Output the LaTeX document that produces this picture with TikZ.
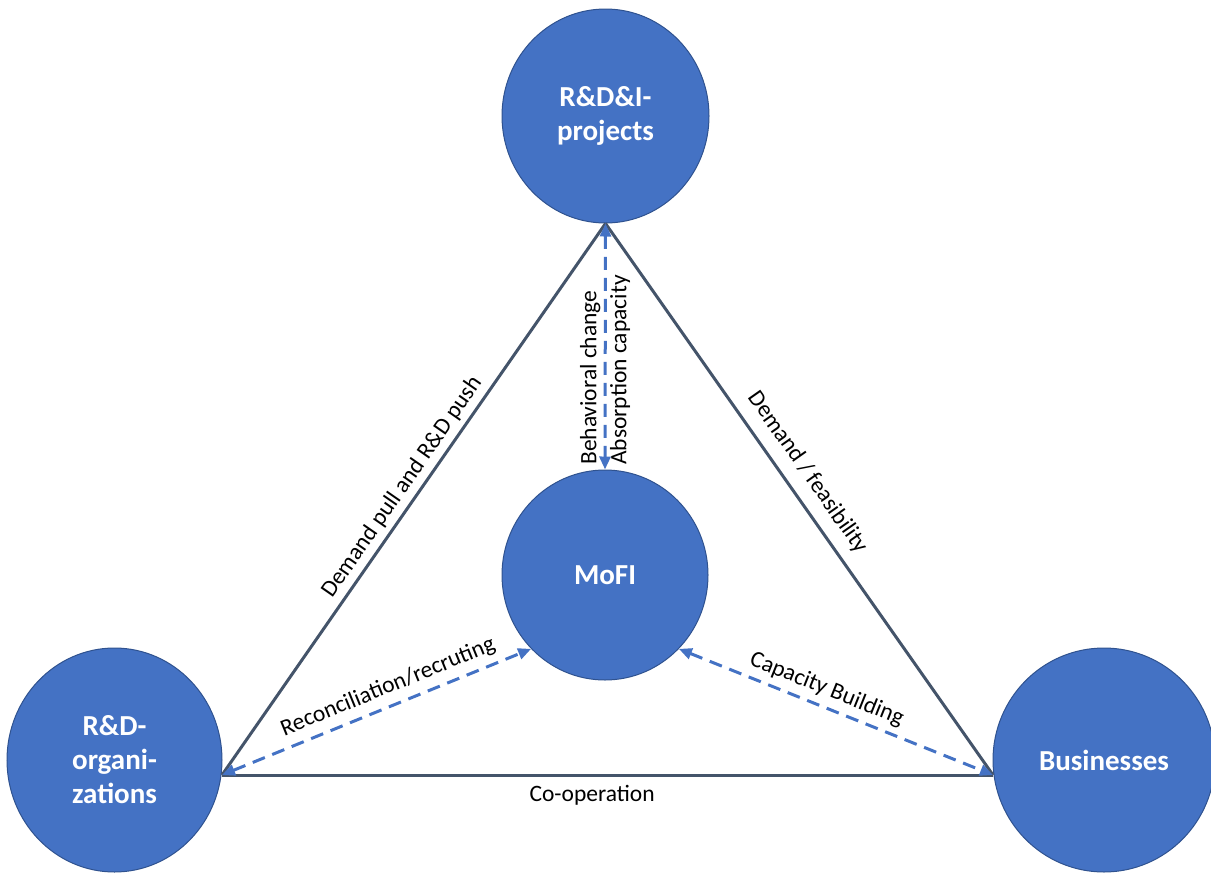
\documentclass[tikz,border=0pt]{standalone}
\usepackage{fontspec}
\setmainfont{Carlito}
\usetikzlibrary{arrows.meta,shapes.geometric}
\definecolor{circfill}{HTML}{4472C4}
\definecolor{circline}{HTML}{2F528F}
\definecolor{triline}{HTML}{44546A}
\definecolor{dashblue}{HTML}{4472C4}
\begin{document}
\begin{tikzpicture}[x=1pt,y=-1pt,
  bubble/.style={ellipse,draw=circline,line width=1pt,fill=circfill,inner sep=0pt,
    text=white,align=center,font=\fontsize{29}{34}\selectfont\bfseries},
  edgeline/.style={draw=triline,line width=3pt},
  flow/.style={draw=dashblue,line width=3pt,dash pattern=on 13pt off 8pt,
    {Triangle[length=13pt,width=11pt]}-{Triangle[length=13pt,width=11pt]}},
  lbl/.style={font=\fontsize{23.5}{27}\selectfont,text=black,inner sep=2pt}]
\useasboundingbox (0,0) rectangle (1211,873);
% nodes
\node[bubble,minimum width=207pt,minimum height=214pt] (top) at (605.5,116) {R\&D\&I-\\projects};
\node[bubble,minimum width=206pt,minimum height=210pt] (mofi) at (605,575) {MoFI};
\node[bubble,minimum width=215pt,minimum height=224pt] (rdo) at (114.5,760) {R\&D-\\organi-\\zations};
\node[bubble,minimum width=222pt,minimum height=224pt] (bus) at (1104,760) {Businesses};
% triangle corners
\coordinate (A) at (top.south);
\coordinate (B) at (222,775);
\coordinate (C) at (993,775);
% triangle
\draw[edgeline] (B) -- node[lbl,sloped,above=3pt,pos=0.505] {Demand pull and R\&D push} (A);
\draw[edgeline] (A) -- node[lbl,sloped,above=9pt,pos=0.475] {Demand / feasibility} (C);
\draw[edgeline] (B) -- node[lbl,below=7pt,pos=0.48] {Co-operation} (C);
% dashed flows
\draw[flow] (A) -- (mofi.north);
\node[lbl,rotate=90,align=left,font=\fontsize{23.5}{30}\selectfont] (vlab) at (605,370) {Behavioral change\\Absorption capacity};
\draw[flow] (B) -- node[lbl,sloped,above=5pt,pos=0.56] {Reconciliation/recruting} (mofi.225);
\draw[flow] (mofi.-45) -- node[lbl,sloped,above=4pt,pos=0.45] {Capacity Building} (C);
\end{tikzpicture}
\end{document}
